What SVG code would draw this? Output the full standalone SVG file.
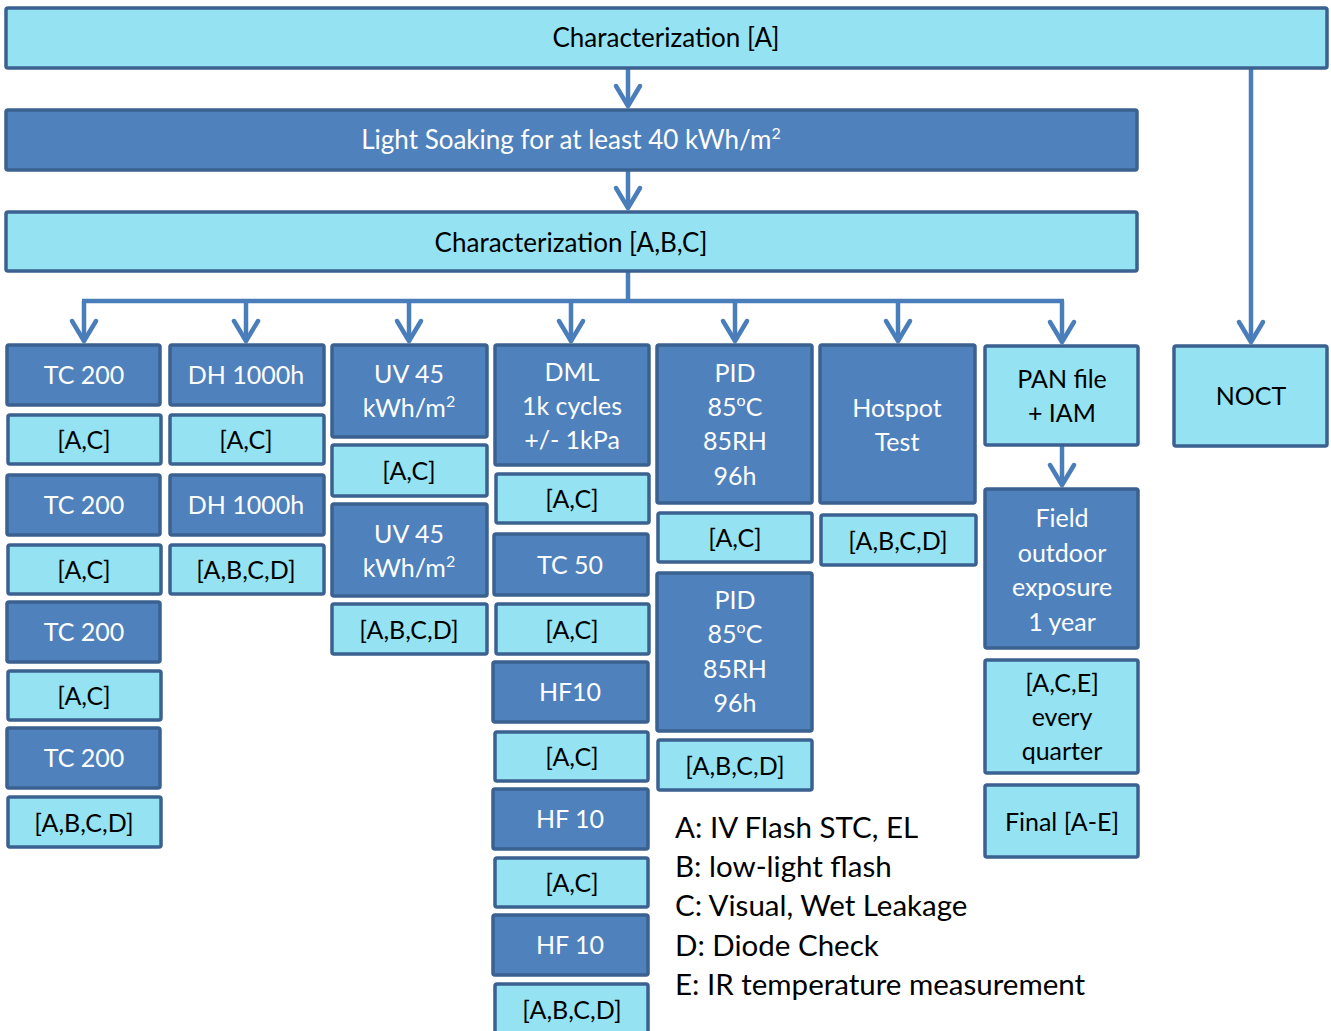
<svg xmlns="http://www.w3.org/2000/svg" width="1331" height="1031" viewBox="0 0 1331 1031">
<style>
.dk{fill:#4F81BD;stroke:#3B6190;stroke-width:3.5}
.lt{fill:#95E3F2;stroke:#3B6190;stroke-width:3.5}
text{font-family:Lato,"Liberation Sans",Arial,sans-serif;font-size:25px;text-anchor:middle}
.w{fill:#FFFFFF}
.b{fill:#000000}
.h{font-size:26px}
.lg{font-size:29.5px;text-anchor:start;fill:#000000}
.sup{font-size:16px}
.con{fill:none;stroke:#4A7EBB;stroke-width:4.5}
</style>
<defs>
<marker id="ah" markerUnits="userSpaceOnUse" viewBox="-24 -15 28 30" markerWidth="28" markerHeight="30" refX="0" refY="0" orient="auto" overflow="visible">
<path d="M-20,-12 L0,0 L-20,12" fill="none" stroke="#4A7EBB" stroke-width="4.5" stroke-linejoin="round" stroke-linecap="round"/>
</marker>
</defs>
<rect width="1331" height="1031" fill="#FFFFFF"/>

<g id="connectors">
<path class="con" d="M628,68 V106" marker-end="url(#ah)"/>
<path class="con" d="M628,170 V208" marker-end="url(#ah)"/>
<path class="con" d="M628,271 V301 M82,301 H1064"/>
<path class="con" d="M84,301 V341" marker-end="url(#ah)"/>
<path class="con" d="M246,301 V341" marker-end="url(#ah)"/>
<path class="con" d="M409,301 V341" marker-end="url(#ah)"/>
<path class="con" d="M571,301 V341" marker-end="url(#ah)"/>
<path class="con" d="M735,301 V341" marker-end="url(#ah)"/>
<path class="con" d="M898,301 V341" marker-end="url(#ah)"/>
<path class="con" d="M1062,301 V342" marker-end="url(#ah)"/>
<path class="con" d="M1251,68 V342" marker-end="url(#ah)"/>
<path class="con" d="M1062,446 V485" marker-end="url(#ah)"/>
</g>

<g id="char-a"><rect class="lt" x="6" y="8" width="1321" height="60" rx="2"/><text class="b h" x="666" y="47">Characterization [A]</text></g>
<g id="light-soaking"><rect class="dk" x="6" y="110" width="1131" height="60" rx="2"/><text class="w h" x="571" y="149">Light Soaking for at least 40 kWh/m<tspan class="sup" dy="-10">2</tspan></text></g>
<g id="char-abc"><rect class="lt" x="6" y="212" width="1131" height="59" rx="2"/><text class="b h" x="571" y="252">Characterization [A,B,C]</text></g>

<g id="tc200-1"><rect class="dk" x="7" y="345" width="153" height="60" rx="2"/><text class="w" x="84" y="384">TC 200</text></g>
<g id="c1-ac1"><rect class="lt" x="8" y="415" width="153" height="49" rx="2"/><text class="b" x="84" y="449">[A,C]</text></g>
<g id="tc200-2"><rect class="dk" x="7" y="475" width="153" height="60" rx="2"/><text class="w" x="84" y="514">TC 200</text></g>
<g id="c1-ac2"><rect class="lt" x="8" y="545" width="153" height="49" rx="2"/><text class="b" x="84" y="579">[A,C]</text></g>
<g id="tc200-3"><rect class="dk" x="7" y="602" width="153" height="60" rx="2"/><text class="w" x="84" y="641">TC 200</text></g>
<g id="c1-ac3"><rect class="lt" x="8" y="671" width="153" height="49" rx="2"/><text class="b" x="84" y="705">[A,C]</text></g>
<g id="tc200-4"><rect class="dk" x="7" y="728" width="153" height="60" rx="2"/><text class="w" x="84" y="767">TC 200</text></g>
<g id="c1-abcd"><rect class="lt" x="8" y="797" width="153" height="50" rx="2"/><text class="b" x="84" y="832">[A,B,C,D]</text></g>

<g id="dh-1"><rect class="dk" x="170" y="345" width="154" height="60" rx="2"/><text class="w" x="246" y="384">DH 1000h</text></g>
<g id="c2-ac"><rect class="lt" x="170" y="415" width="154" height="49" rx="2"/><text class="b" x="246" y="449">[A,C]</text></g>
<g id="dh-2"><rect class="dk" x="170" y="475" width="154" height="60" rx="2"/><text class="w" x="246" y="514">DH 1000h</text></g>
<g id="c2-abcd"><rect class="lt" x="170" y="545" width="154" height="49" rx="2"/><text class="b" x="246" y="579">[A,B,C,D]</text></g>

<g id="uv-1"><rect class="dk" x="332" y="345" width="155" height="92" rx="2"/><text class="w" x="409" y="383">UV 45</text><text class="w" x="409" y="417">kWh/m<tspan class="sup" dy="-10">2</tspan></text></g>
<g id="c3-ac"><rect class="lt" x="332" y="445" width="155" height="51" rx="2"/><text class="b" x="409" y="480">[A,C]</text></g>
<g id="uv-2"><rect class="dk" x="332" y="504" width="155" height="92" rx="2"/><text class="w" x="409" y="543">UV 45</text><text class="w" x="409" y="577">kWh/m<tspan class="sup" dy="-10">2</tspan></text></g>
<g id="c3-abcd"><rect class="lt" x="332" y="604" width="155" height="50" rx="2"/><text class="b" x="409" y="639">[A,B,C,D]</text></g>

<g id="dml"><rect class="dk" x="495" y="345" width="154" height="120" rx="2"/><text class="w" x="572" y="381">DML</text><text class="w" x="572" y="415">1k cycles</text><text class="w" x="572" y="449">+/- 1kPa</text></g>
<g id="c4-ac1"><rect class="lt" x="496" y="474" width="153" height="49" rx="2"/><text class="b" x="572" y="508">[A,C]</text></g>
<g id="tc50"><rect class="dk" x="494" y="534" width="154" height="61" rx="2"/><text class="w" x="570" y="574">TC 50</text></g>
<g id="c4-ac2"><rect class="lt" x="496" y="604" width="153" height="50" rx="2"/><text class="b" x="572" y="639">[A,C]</text></g>
<g id="hf10-1"><rect class="dk" x="493" y="662" width="155" height="60" rx="2"/><text class="w" x="570" y="701">HF10</text></g>
<g id="c4-ac3"><rect class="lt" x="495" y="732" width="153" height="49" rx="2"/><text class="b" x="572" y="766">[A,C]</text></g>
<g id="hf10-2"><rect class="dk" x="493" y="789" width="155" height="60" rx="2"/><text class="w" x="570" y="828">HF 10</text></g>
<g id="c4-ac4"><rect class="lt" x="495" y="858" width="153" height="49" rx="2"/><text class="b" x="572" y="892">[A,C]</text></g>
<g id="hf10-3"><rect class="dk" x="493" y="915" width="155" height="60" rx="2"/><text class="w" x="570" y="954">HF 10</text></g>
<g id="c4-abcd"><rect class="lt" x="495" y="984" width="153" height="52" rx="2"/><text class="b" x="572" y="1019">[A,B,C,D]</text></g>

<g id="pid-1"><rect class="dk" x="657" y="345" width="155" height="158" rx="2"/><text class="w" x="735" y="382">PID</text><text class="w" x="735" y="416">85<tspan class="sup" dy="-10">o</tspan><tspan dy="10">C</tspan></text><text class="w" x="735" y="450">85RH</text><text class="w" x="735" y="485">96h</text></g>
<g id="c5-ac"><rect class="lt" x="658" y="513" width="154" height="49" rx="2"/><text class="b" x="735" y="547">[A,C]</text></g>
<g id="pid-2"><rect class="dk" x="657" y="573" width="155" height="158" rx="2"/><text class="w" x="735" y="609">PID</text><text class="w" x="735" y="643">85<tspan class="sup" dy="-10">o</tspan><tspan dy="10">C</tspan></text><text class="w" x="735" y="678">85RH</text><text class="w" x="735" y="712">96h</text></g>
<g id="c5-abcd"><rect class="lt" x="658" y="740" width="154" height="50" rx="2"/><text class="b" x="735" y="775">[A,B,C,D]</text></g>

<g id="hotspot"><rect class="dk" x="820" y="345" width="155" height="158" rx="2"/><text class="w" x="897" y="417">Hotspot</text><text class="w" x="897" y="451">Test</text></g>
<g id="c6-abcd"><rect class="lt" x="821" y="515" width="155" height="50" rx="2"/><text class="b" x="898" y="550">[A,B,C,D]</text></g>

<g id="pan"><rect class="lt" x="985" y="346" width="153" height="99" rx="2"/><text class="b" x="1062" y="388">PAN file</text><text class="b" x="1062" y="422">+ IAM</text></g>
<g id="field"><rect class="dk" x="985" y="489" width="153" height="159" rx="2"/><text class="w" x="1062" y="527">Field</text><text class="w" x="1062" y="562">outdoor</text><text class="w" x="1062" y="596">exposure</text><text class="w" x="1062" y="631">1 year</text></g>
<g id="ace"><rect class="lt" x="985" y="660" width="153" height="113" rx="2"/><text class="b" x="1062" y="692">[A,C,E]</text><text class="b" x="1062" y="726">every</text><text class="b" x="1062" y="760">quarter</text></g>
<g id="final"><rect class="lt" x="985" y="785" width="153" height="72" rx="2"/><text class="b" x="1062" y="831">Final [A-E]</text></g>

<g id="noct"><rect class="lt" x="1174" y="346" width="153" height="100" rx="2"/><text class="b" x="1251" y="405">NOCT</text></g>

<g id="legend">
<text class="lg" x="675" y="838">A: IV Flash STC, EL</text>
<text class="lg" x="675" y="877">B: low-light flash</text>
<text class="lg" x="675" y="916">C: Visual, Wet Leakage</text>
<text class="lg" x="675" y="956">D: Diode Check</text>
<text class="lg" x="675" y="995">E: IR temperature measurement</text>
</g>
</svg>
